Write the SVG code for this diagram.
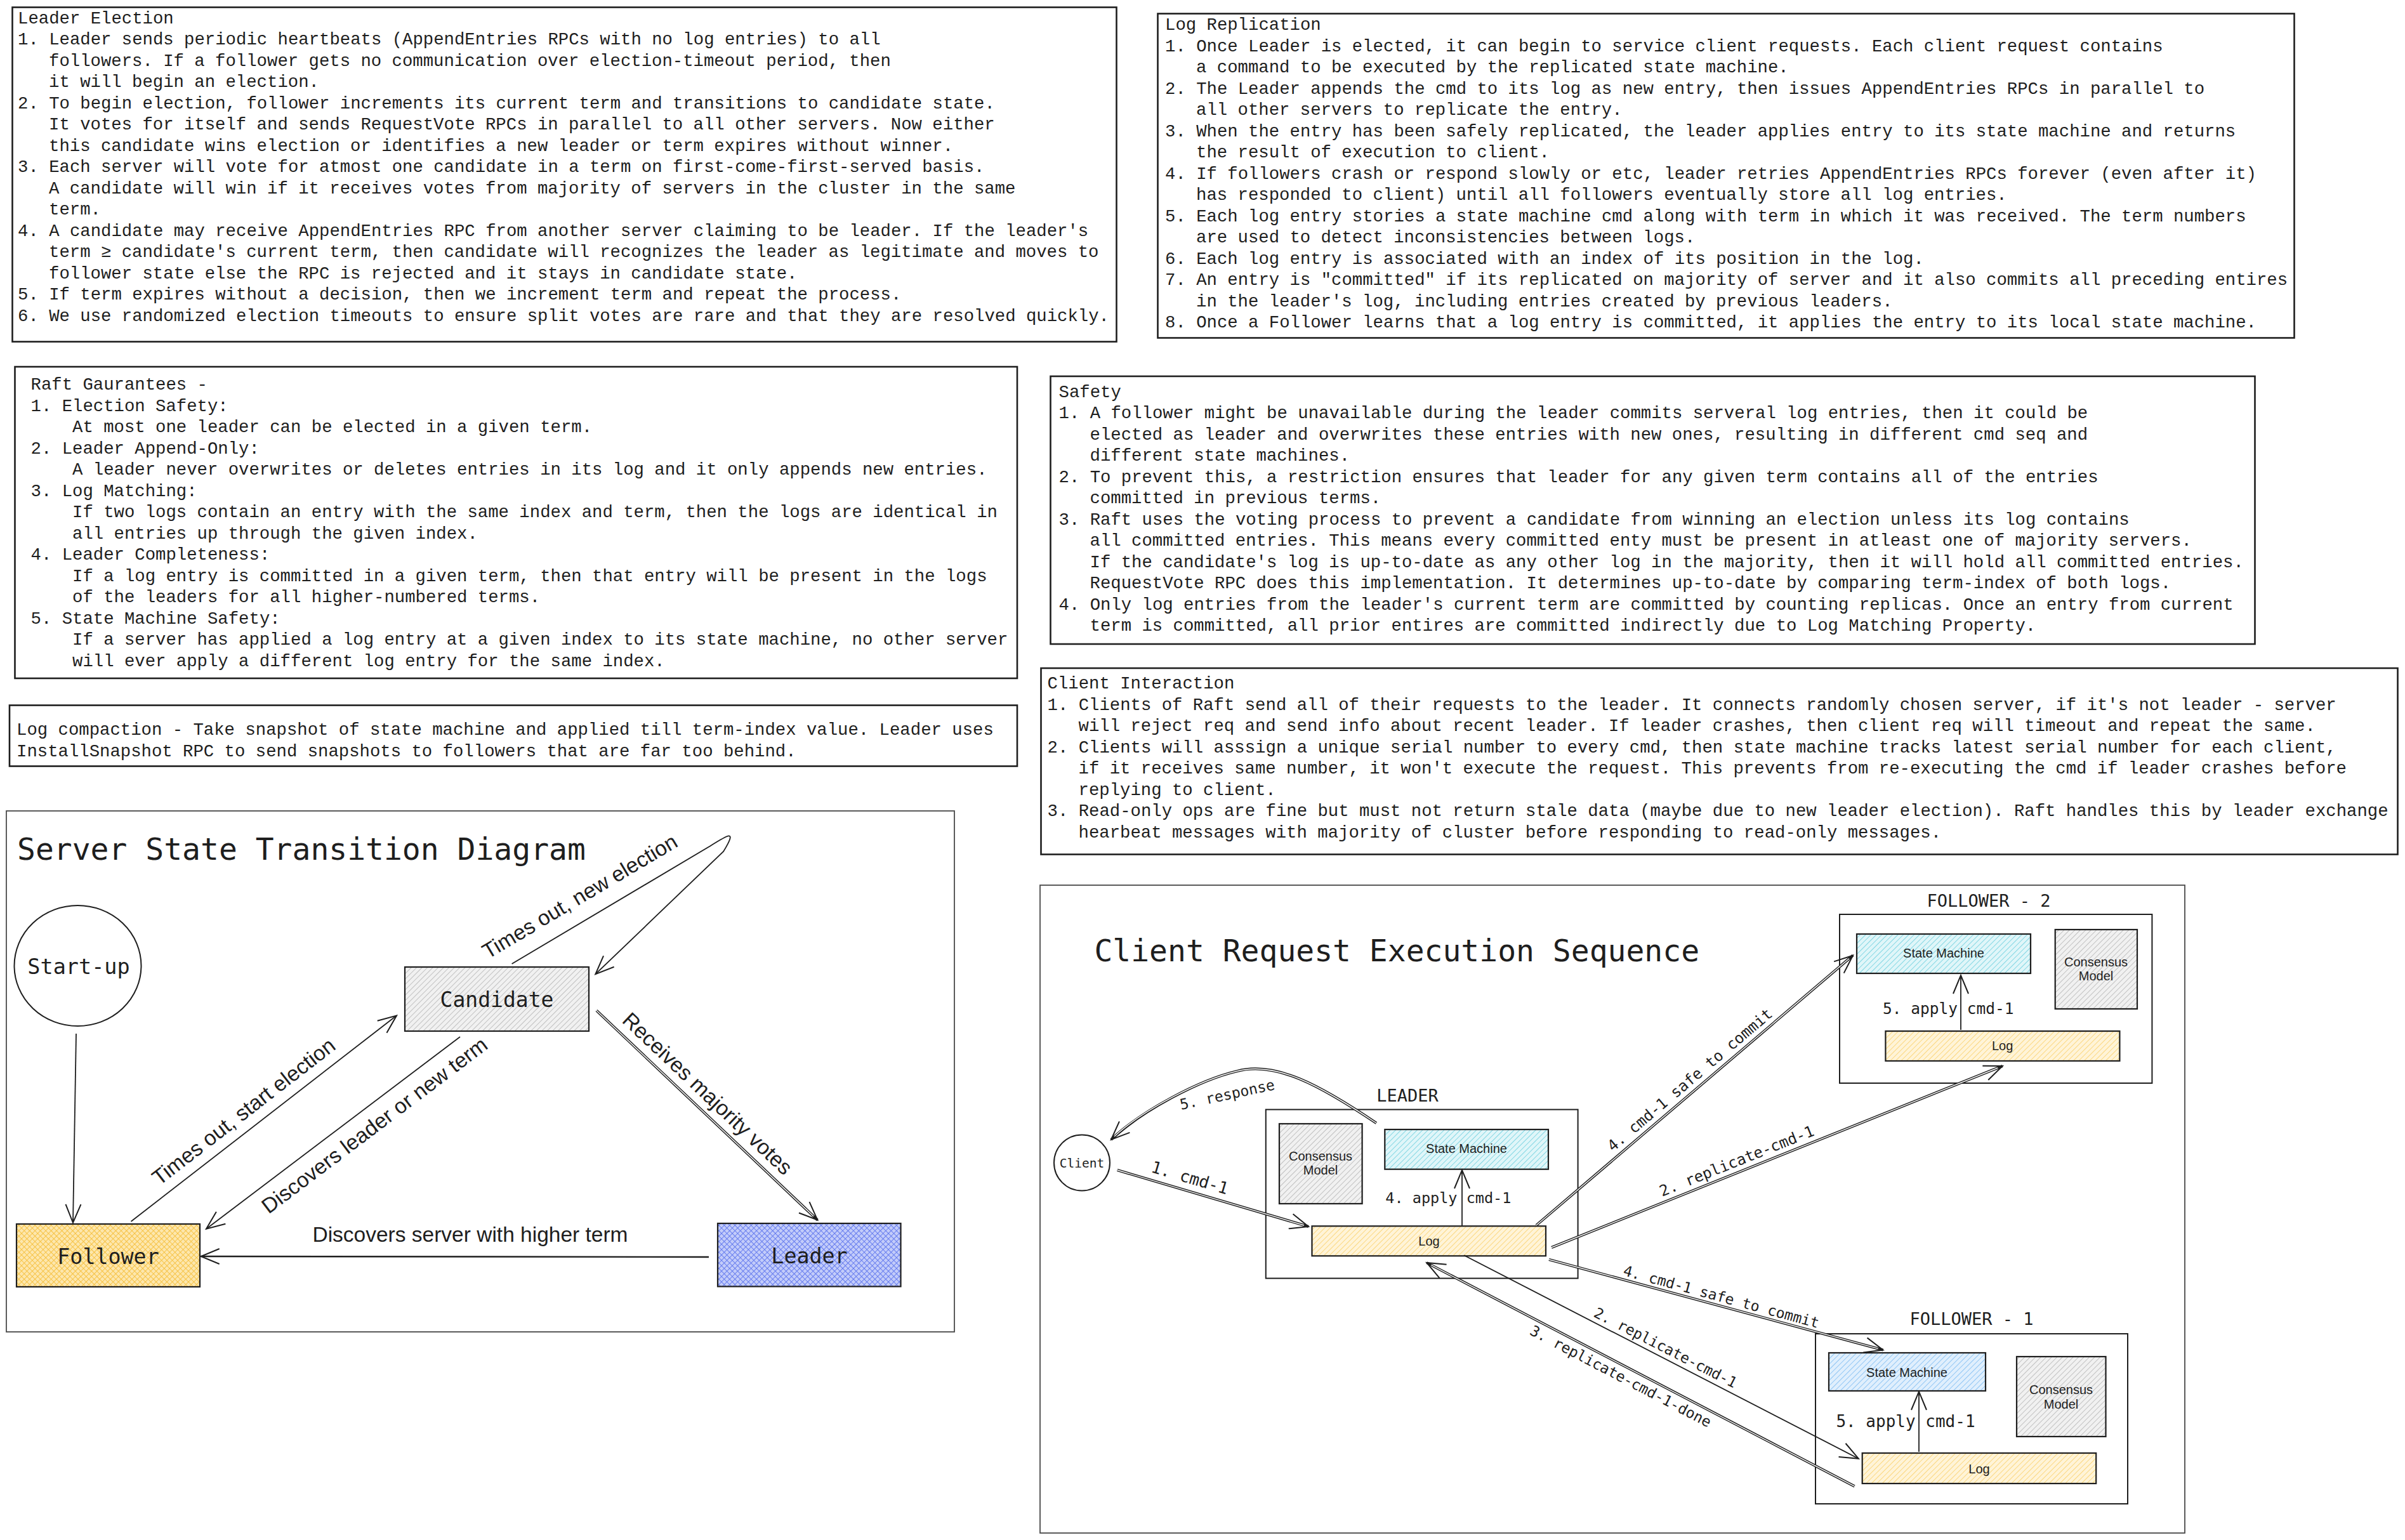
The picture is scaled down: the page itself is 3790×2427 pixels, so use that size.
<svg xmlns="http://www.w3.org/2000/svg" width="3790" height="2427" viewBox="0 0 3790 2427">
<style>
.box{fill:none;stroke:#1e1e1e;stroke-width:2.6}
.frame{fill:none;stroke:#4a4a4a;stroke-width:1.8}
.p{font-family:"Liberation Mono","DejaVu Sans Mono",monospace;font-size:27.3px;fill:#1e1e1e}
.mono{font-family:"Liberation Mono","DejaVu Sans Mono",monospace;fill:#1e1e1e}
.hd{font-family:"DejaVu Sans Mono","Liberation Mono",monospace;fill:#1e1e1e}
.sans{font-family:"Liberation Sans",Arial,sans-serif;fill:#1e1e1e}
.node{stroke:#1e1e1e;stroke-width:2.2}
.ln{fill:none;stroke:#1e1e1e;stroke-width:1.8}
.lnb{fill:none;stroke:#1e1e1e;stroke-width:2.4}
.dblo{fill:none;stroke:#1e1e1e;stroke-width:4.2}
.dbli{fill:none;stroke:#ffffff;stroke-width:1.4}
</style>
<defs>
<marker id="ah" markerUnits="userSpaceOnUse" viewBox="0 0 40 40" markerWidth="40" markerHeight="40" refX="31" refY="20" orient="auto">
<path d="M2,8 L31,20 L2,32" fill="none" stroke="#1e1e1e" stroke-width="2"/>
</marker>
<pattern id="xY" patternUnits="userSpaceOnUse" width="6" height="6" patternTransform="rotate(45)">
<rect width="6" height="6" fill="#fde7ad"/>
<line x1="0" y1="0" x2="0" y2="6" stroke="#f6bf3c" stroke-width="1.8"/>
<line x1="0" y1="0" x2="6" y2="0" stroke="#f6bf3c" stroke-width="1.8"/>
</pattern>
<pattern id="xB" patternUnits="userSpaceOnUse" width="6" height="6" patternTransform="rotate(45)">
<rect width="6" height="6" fill="#c3ccfa"/>
<line x1="0" y1="0" x2="0" y2="6" stroke="#6279ee" stroke-width="1.9"/>
<line x1="0" y1="0" x2="6" y2="0" stroke="#6279ee" stroke-width="1.9"/>
</pattern>
<pattern id="hG" patternUnits="userSpaceOnUse" width="6" height="6" patternTransform="rotate(45)">
<rect width="6" height="6" fill="#f1f1f1"/>
<line x1="0" y1="0" x2="0" y2="6" stroke="#b5b5b5" stroke-width="1.6"/>
</pattern>
<pattern id="hY" patternUnits="userSpaceOnUse" width="6" height="6" patternTransform="rotate(45)">
<rect width="6" height="6" fill="#fff4d8"/>
<line x1="0" y1="0" x2="0" y2="6" stroke="#fbd06a" stroke-width="1.6"/>
</pattern>
<pattern id="hC" patternUnits="userSpaceOnUse" width="6" height="6" patternTransform="rotate(45)">
<rect width="6" height="6" fill="#e0f6f9"/>
<line x1="0" y1="0" x2="0" y2="6" stroke="#6cd0de" stroke-width="1.6"/>
</pattern>
<pattern id="hL" patternUnits="userSpaceOnUse" width="6" height="6" patternTransform="rotate(45)">
<rect width="6" height="6" fill="#e0effd"/>
<line x1="0" y1="0" x2="0" y2="6" stroke="#7dbcf2" stroke-width="1.6"/>
</pattern>
</defs>
<rect width="3790" height="2427" fill="#ffffff"/>

<g id="leader-election">
<rect class="box" x="19.5" y="11.5" width="1740" height="527"/>
<text class="p" y="36.5">
<tspan x="28">Leader Election</tspan>
<tspan x="28" dy="33.5">1. Leader sends periodic heartbeats (AppendEntries RPCs with no log entries) to all</tspan>
<tspan x="77" dy="33.5">followers. If a follower gets no communication over election-timeout period, then</tspan>
<tspan x="77" dy="33.5">it will begin an election.</tspan>
<tspan x="28" dy="33.5">2. To begin election, follower increments its current term and transitions to candidate state.</tspan>
<tspan x="77" dy="33.5">It votes for itself and sends RequestVote RPCs in parallel to all other servers. Now either</tspan>
<tspan x="77" dy="33.5">this candidate wins election or identifies a new leader or term expires without winner.</tspan>
<tspan x="28" dy="33.5">3. Each server will vote for atmost one candidate in a term on first-come-first-served basis.</tspan>
<tspan x="77" dy="33.5">A candidate will win if it receives votes from majority of servers in the cluster in the same</tspan>
<tspan x="77" dy="33.5">term.</tspan>
<tspan x="28" dy="33.5">4. A candidate may receive AppendEntries RPC from another server claiming to be leader. If the leader's</tspan>
<tspan x="77" dy="33.5">term ≥ candidate's current term, then candidate will recognizes the leader as legitimate and moves to</tspan>
<tspan x="77" dy="33.5">follower state else the RPC is rejected and it stays in candidate state.</tspan>
<tspan x="28" dy="33.5">5. If term expires without a decision, then we increment term and repeat the process.</tspan>
<tspan x="28" dy="33.5">6. We use randomized election timeouts to ensure split votes are rare and that they are resolved quickly.</tspan>
</text>
</g>

<g id="log-replication">
<rect class="box" x="1824.5" y="21.5" width="1791" height="511"/>
<text class="p" y="47">
<tspan x="1836">Log Replication</tspan>
<tspan x="1836" dy="33.5">1. Once Leader is elected, it can begin to service client requests. Each client request contains</tspan>
<tspan x="1885" dy="33.5">a command to be executed by the replicated state machine.</tspan>
<tspan x="1836" dy="33.5">2. The Leader appends the cmd to its log as new entry, then issues AppendEntries RPCs in parallel to</tspan>
<tspan x="1885" dy="33.5">all other servers to replicate the entry.</tspan>
<tspan x="1836" dy="33.5">3. When the entry has been safely replicated, the leader applies entry to its state machine and returns</tspan>
<tspan x="1885" dy="33.5">the result of execution to client.</tspan>
<tspan x="1836" dy="33.5">4. If followers crash or respond slowly or etc, leader retries AppendEntries RPCs forever (even after it)</tspan>
<tspan x="1885" dy="33.5">has responded to client) until all followers eventually store all log entries.</tspan>
<tspan x="1836" dy="33.5">5. Each log entry stories a state machine cmd along with term in which it was received. The term numbers</tspan>
<tspan x="1885" dy="33.5">are used to detect inconsistencies between logs.</tspan>
<tspan x="1836" dy="33.5">6. Each log entry is associated with an index of its position in the log.</tspan>
<tspan x="1836" dy="33.5">7. An entry is "committed" if its replicated on majority of server and it also commits all preceding entires</tspan>
<tspan x="1885" dy="33.5">in the leader's log, including entries created by previous leaders.</tspan>
<tspan x="1836" dy="33.5">8. Once a Follower learns that a log entry is committed, it applies the entry to its local state machine.</tspan>
</text>
</g>

<g id="raft-guarantees">
<rect class="box" x="23.5" y="578" width="1579.5" height="491"/>
<text class="p" y="614">
<tspan x="48.5">Raft Gaurantees -</tspan>
<tspan x="48.5" dy="33.5">1. Election Safety:</tspan>
<tspan x="114" dy="33.5">At most one leader can be elected in a given term.</tspan>
<tspan x="48.5" dy="33.5">2. Leader Append-Only:</tspan>
<tspan x="114" dy="33.5">A leader never overwrites or deletes entries in its log and it only appends new entries.</tspan>
<tspan x="48.5" dy="33.5">3. Log Matching:</tspan>
<tspan x="114" dy="33.5">If two logs contain an entry with the same index and term, then the logs are identical in</tspan>
<tspan x="114" dy="33.5">all entries up through the given index.</tspan>
<tspan x="48.5" dy="33.5">4. Leader Completeness:</tspan>
<tspan x="114" dy="33.5">If a log entry is committed in a given term, then that entry will be present in the logs</tspan>
<tspan x="114" dy="33.5">of the leaders for all higher-numbered terms.</tspan>
<tspan x="48.5" dy="33.5">5. State Machine Safety:</tspan>
<tspan x="114" dy="33.5">If a server has applied a log entry at a given index to its state machine, no other server</tspan>
<tspan x="114" dy="33.5">will ever apply a different log entry for the same index.</tspan>
</text>
</g>

<g id="log-compaction">
<rect class="box" x="15" y="1111.5" width="1588" height="96"/>
<text class="p" y="1158">
<tspan x="26">Log compaction - Take snapshot of state machine and applied till term-index value. Leader uses</tspan>
<tspan x="26" dy="33.5">InstallSnapshot RPC to send snapshots to followers that are far too behind.</tspan>
</text>
</g>

<g id="safety">
<rect class="box" x="1655.5" y="593" width="1898" height="422"/>
<text class="p" y="625.7">
<tspan x="1668.5">Safety</tspan>
<tspan x="1668.5" dy="33.5">1. A follower might be unavailable during the leader commits serveral log entries, then it could be</tspan>
<tspan x="1717.5" dy="33.5">elected as leader and overwrites these entries with new ones, resulting in different cmd seq and</tspan>
<tspan x="1717.5" dy="33.5">different state machines.</tspan>
<tspan x="1668.5" dy="33.5">2. To prevent this, a restriction ensures that leader for any given term contains all of the entries</tspan>
<tspan x="1717.5" dy="33.5">committed in previous terms.</tspan>
<tspan x="1668.5" dy="33.5">3. Raft uses the voting process to prevent a candidate from winning an election unless its log contains</tspan>
<tspan x="1717.5" dy="33.5">all committed entries. This means every committed enty must be present in atleast one of majority servers.</tspan>
<tspan x="1717.5" dy="33.5">If the candidate's log is up-to-date as any other log in the majority, then it will hold all committed entries.</tspan>
<tspan x="1717.5" dy="33.5">RequestVote RPC does this implementation. It determines up-to-date by comparing term-index of both logs.</tspan>
<tspan x="1668.5" dy="33.5">4. Only log entries from the leader's current term are committed by counting replicas. Once an entry from current</tspan>
<tspan x="1717.5" dy="33.5">term is committed, all prior entires are committed indirectly due to Log Matching Property.</tspan>
</text>
</g>

<g id="client-interaction">
<rect class="box" x="1640.5" y="1053" width="2138" height="293.5"/>
<text class="p" y="1085">
<tspan x="1650.5">Client Interaction</tspan>
<tspan x="1650.5" dy="33.5">1. Clients of Raft send all of their requests to the leader. It connects randomly chosen server, if it's not leader - server</tspan>
<tspan x="1699.5" dy="33.5">will reject req and send info about recent leader. If leader crashes, then client req will timeout and repeat the same.</tspan>
<tspan x="1650.5" dy="33.5">2. Clients will asssign a unique serial number to every cmd, then state machine tracks latest serial number for each client,</tspan>
<tspan x="1699.5" dy="33.5">if it receives same number, it won't execute the request. This prevents from re-executing the cmd if leader crashes before</tspan>
<tspan x="1699.5" dy="33.5">replying to client.</tspan>
<tspan x="1650.5" dy="33.5">3. Read-only ops are fine but must not return stale data (maybe due to new leader election). Raft handles this by leader exchange</tspan>
<tspan x="1699.5" dy="33.5">hearbeat messages with majority of cluster before responding to read-only messages.</tspan>
</text>
</g>

<g id="state-diagram">
<rect class="frame" x="10" y="1278" width="1494" height="821"/>
<text class="hd" x="27" y="1355" font-size="48">Server State Transition Diagram</text>
<g id="node-startup">
<ellipse cx="122.5" cy="1522" rx="100" ry="95" fill="#ffffff" stroke="#1e1e1e" stroke-width="2"/>
<text class="hd" x="124" y="1535" font-size="33.5" text-anchor="middle">Start-up</text>
</g>
<g id="node-candidate">
<rect class="node" x="638" y="1524" width="290" height="101" fill="url(#hG)"/>
<text class="hd" x="783" y="1587" font-size="33" text-anchor="middle">Candidate</text>
</g>
<g id="node-follower">
<rect class="node" x="26" y="1929" width="289" height="99" fill="url(#xY)"/>
<text class="hd" x="170.5" y="1991.5" font-size="33.3" text-anchor="middle">Follower</text>
</g>
<g id="node-leader">
<rect class="node" x="1131" y="1928" width="288.5" height="99.5" fill="url(#xB)"/>
<text class="hd" x="1275.5" y="1990.5" font-size="33.3" text-anchor="middle">Leader</text>
</g>
<g id="state-connectors">
<path class="ln" d="M120,1629 L115,1927" marker-end="url(#ah)"/>
<path class="ln" d="M206.5,1925 L625,1600.5" marker-end="url(#ah)"/>
<path class="ln" d="M725,1634 L325,1936.7" marker-end="url(#ah)"/>
<path class="lnb" d="M1117,1981 L316.7,1980" marker-end="url(#ah)"/>
<path class="ln" d="M806.6,1519 L1118,1334 C1148,1315 1162,1306 1140,1342 L938.4,1535.2" marker-end="url(#ah)"/>
<path class="dblo" d="M940,1592.5 L1288.3,1922.7" marker-end="url(#ah)"/>
<path class="dbli" d="M940,1592.5 L1282,1916.7"/>
<text class="sans" font-size="33.5" text-anchor="middle" dominant-baseline="central" transform="translate(384,1751.6) rotate(-37.8)">Times out, start election</text>
<text class="sans" font-size="33.5" text-anchor="middle" dominant-baseline="central" transform="translate(590,1773.5) rotate(-37.1)">Discovers leader or new term</text>
<text class="sans" font-size="33.5" text-anchor="middle" dominant-baseline="central" transform="translate(913.6,1412.6) rotate(-30.7)">Times out, new election</text>
<text class="sans" font-size="33.5" text-anchor="middle" dominant-baseline="central" transform="translate(1115,1723.5) rotate(43.5)">Receives majority votes</text>
<text class="sans" x="741" y="1957" font-size="33.5" text-anchor="middle">Discovers server with higher term</text>
</g>
</g>

<g id="client-diagram">
<rect class="frame" x="1639" y="1395" width="1804" height="1021"/>
<text class="hd" x="1724.4" y="1515" font-size="48">Client Request Execution Sequence</text>
<g id="node-client">
<circle cx="1705" cy="1832.5" r="44" fill="#ffffff" stroke="#1e1e1e" stroke-width="2"/>
<text class="hd" x="1705" y="1839.5" font-size="19.5" text-anchor="middle">Client</text>
</g>
<g id="node-leader-server">
<text class="hd" x="2218" y="1735.6" font-size="27" text-anchor="middle">LEADER</text>
<rect x="1994.8" y="1748.6" width="491.8" height="266" fill="#ffffff" stroke="#1e1e1e" stroke-width="2"/>
<rect class="node" x="2016" y="1771" width="130.6" height="126" fill="url(#hG)"/>
<text class="sans" font-size="20" text-anchor="middle"><tspan x="2081" y="1829">Consensus</tspan><tspan x="2081" y="1851.4">Model</tspan></text>
<rect class="node" x="2182.3" y="1780" width="257.7" height="62.7" fill="url(#hC)"/>
<text class="sans" x="2311" y="1817.3" font-size="20" text-anchor="middle">State Machine</text>
<rect class="node" x="2067.5" y="1932.3" width="368.5" height="47" fill="url(#hY)"/>
<text class="sans" x="2252" y="1963.3" font-size="20" text-anchor="middle">Log</text>
</g>
<g id="node-follower-2">
<text class="hd" x="3134" y="1429" font-size="27" text-anchor="middle">FOLLOWER - 2</text>
<rect x="2899" y="1441" width="492.4" height="266" fill="#ffffff" stroke="#1e1e1e" stroke-width="2"/>
<rect class="node" x="2926" y="1472" width="274" height="62" fill="url(#hC)"/>
<text class="sans" x="3063" y="1508.5" font-size="20" text-anchor="middle">State Machine</text>
<rect class="node" x="3238.7" y="1465" width="129.3" height="125" fill="url(#hG)"/>
<text class="sans" font-size="20" text-anchor="middle"><tspan x="3303" y="1523">Consensus</tspan><tspan x="3303" y="1545">Model</tspan></text>
<rect class="node" x="2971.4" y="1625" width="369" height="47" fill="url(#hY)"/>
<text class="sans" x="3155.7" y="1655" font-size="20" text-anchor="middle">Log</text>
</g>
<g id="node-follower-1">
<text class="hd" x="3107" y="2088" font-size="27" text-anchor="middle">FOLLOWER - 1</text>
<rect x="2861" y="2102" width="492" height="268" fill="#ffffff" stroke="#1e1e1e" stroke-width="2"/>
<rect class="node" x="2882" y="2132" width="247" height="60" fill="url(#hL)"/>
<text class="sans" x="3005" y="2170" font-size="20" text-anchor="middle">State Machine</text>
<rect class="node" x="3178" y="2138" width="140.5" height="126" fill="url(#hG)"/>
<text class="sans" font-size="20" text-anchor="middle"><tspan x="3248" y="2196.5">Consensus</tspan><tspan x="3248" y="2220">Model</tspan></text>
<rect class="node" x="2934.7" y="2290" width="368.5" height="48" fill="url(#hY)"/>
<text class="sans" x="3119" y="2322" font-size="20" text-anchor="middle">Log</text>
</g>
<g id="client-connectors">
<path class="ln" d="M2304,1931.7 L2304,1844" marker-end="url(#ah)"/>
<text class="hd" x="2183.3" y="1896" font-size="23.5" xml:space="preserve">4. apply cmd-1</text>
<path class="ln" d="M3090,1623 L3090,1537" marker-end="url(#ah)"/>
<text class="hd" x="2967" y="1598" font-size="24.5" xml:space="preserve">5. apply cmd-1</text>
<path class="ln" d="M3024,2288 L3024,2193" marker-end="url(#ah)"/>
<text class="hd" x="2893.4" y="2249" font-size="26" xml:space="preserve">5. apply cmd-1</text>

<path class="dblo" d="M1760.7,1844 L2062,1933" marker-end="url(#ah)"/>
<path class="dbli" d="M1760.7,1844 L2055,1931"/>
<text class="hd" font-size="26" text-anchor="middle" dominant-baseline="central" transform="translate(1875,1856) rotate(16.5)">1. cmd-1</text>

<path class="dblo" d="M2169,1770 C2080,1710 2010,1672 1950,1688 C1890,1702 1800,1750 1751,1796" marker-end="url(#ah)"/>
<path class="dbli" d="M2169,1770 C2080,1710 2010,1672 1950,1688 C1890,1702 1800,1750 1756,1791"/>
<text class="hd" font-size="23" text-anchor="middle" dominant-baseline="central" transform="translate(1934,1725) rotate(-12.2)">5. response</text>

<path class="dblo" d="M2421,1931 L2920,1505.7" marker-end="url(#ah)"/>
<path class="dbli" d="M2421,1931 L2914,1510.7"/>
<text class="hd" font-size="24" text-anchor="middle" dominant-baseline="central" transform="translate(2663,1702) rotate(-40.4)">4. cmd-1 safe to commit</text>

<path class="dblo" d="M2445,1966 L3155.7,1680" marker-end="url(#ah)"/>
<path class="dbli" d="M2445,1966 L3148.3,1683"/>
<text class="hd" font-size="24" text-anchor="middle" dominant-baseline="central" transform="translate(2737,1830) rotate(-21.9)">2. replicate-cmd-1</text>

<path class="dblo" d="M2441,1985 L2967.4,2127.5" marker-end="url(#ah)"/>
<path class="dbli" d="M2441,1985 L2959.7,2125.4"/>
<text class="hd" font-size="23" text-anchor="middle" dominant-baseline="central" transform="translate(2712.5,2043.6) rotate(15.2)">4. cmd-1 safe to commit</text>

<path class="ln" d="M2307,1978.3 L2928.8,2298.7" marker-end="url(#ah)"/>
<text class="hd" font-size="23" text-anchor="middle" dominant-baseline="central" transform="translate(2624.7,2124) rotate(27.1)">2. replicate-cmd-1</text>

<path class="dblo" d="M2922.6,2342.4 L2248.3,1990" marker-end="url(#ah)"/>
<path class="dbli" d="M2922.6,2342.4 L2255.4,1993.7"/>
<text class="hd" font-size="23" text-anchor="middle" dominant-baseline="central" transform="translate(2554,2169) rotate(27.6)">3. replicate-cmd-1-done</text>
</g>
</g>
</svg>
